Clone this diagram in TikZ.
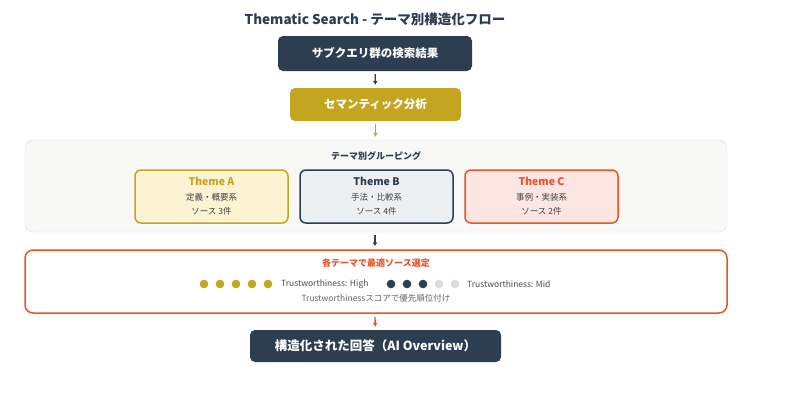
\documentclass[tikz,border=0pt]{standalone}
\usepackage{fontspec}
\setmainfont{Noto Sans CJK JP}
\usetikzlibrary{arrows.meta, positioning}
\definecolor{navy}{HTML}{2C3E50}
\definecolor{gold}{HTML}{C4A520}
\definecolor{rust}{HTML}{E8532A}
\definecolor{goldbg}{HTML}{FCF3D2}
\definecolor{navybg}{HTML}{ECF0F3}
\definecolor{rustbg}{HTML}{FDE6E1}
\definecolor{grpbg}{HTML}{F8F8F6}
\definecolor{grpline}{HTML}{DDDDDD}
\definecolor{dimdot}{HTML}{DDDDDD}

\begin{document}
\begin{tikzpicture}[x=1pt,y=-1pt,
	stage/.style={inner sep=0pt, rounded corners=5pt, text=white, font=\bfseries\fontsize{11.5}{13}\selectfont},
	theme/.style={inner sep=0pt, rounded corners=6pt, line width=1.5pt, minimum width=153pt, minimum height=53pt, align=center, text=black!75, font=\fontsize{8.5}{14.5}\selectfont},
	flow/.style={-{Latex[length=4pt,width=5pt]}, line width=1.3pt, shorten <=3pt, shorten >=3pt}]
	\useasboundingbox (0,0) rectangle (800,400);

	\node[text=navy, font=\bfseries\fontsize{13.5}{15}\selectfont] (title) at (375,19) {Thematic Search - テーマ別構造化フロー};

	\draw (375,53.5) node[stage, fill=navy, minimum width=194pt, minimum height=35pt] (res) {サブクエリ群の検索結果}
		(375.5,104.5) node[stage, fill=gold, minimum width=171pt, minimum height=33pt] (sem) {セマンティック分析}
		(376,186) node[inner sep=0pt, rounded corners=8pt, draw=grpline, fill=grpbg, minimum width=702pt, minimum height=92pt] (grp) {}
		(376,281.5) node[inner sep=0pt, rounded corners=8pt, draw=rust, line width=1.5pt, fill=white, minimum width=702pt, minimum height=63pt] (sel) {}
		(375.5,346) node[stage, fill=navy, minimum width=251pt, minimum height=32pt, font=\bfseries\fontsize{12.5}{14}\selectfont] (ans) {構造化された回答（AI Overview）};

	\node[text=navy, font=\bfseries\fontsize{9}{11}\selectfont] (grplab) at (376,156) {テーマ別グルーピング};
	\node[theme, draw=gold, fill=goldbg] (thA) at (211.5,196.5) {{\color{gold}\bfseries\fontsize{10.5}{14.5}\selectfont Theme A}\\定義・概要系\\ソース 3件};
	\node[theme, draw=navy, fill=navybg] (thB) at (376.5,196.5) {{\color{navy}\bfseries\fontsize{10.5}{14.5}\selectfont Theme B}\\手法・比較系\\ソース 4件};
	\node[theme, draw=rust, fill=rustbg] (thC) at (541.5,196.5) {{\color{rust}\bfseries\fontsize{10.5}{14.5}\selectfont Theme C}\\事例・実装系\\ソース 2件};

	\node[text=rust, font=\bfseries\fontsize{9}{11}\selectfont] (sellab) at (376,263) {各テーマで最適ソース選定};
	% trust dots
	\foreach \x in {204,220,236,252,268}
		\fill[gold] (\x,284) circle (4.3pt);
	\foreach \x/\c in {391/navy,407/navy,423/navy,439/dimdot,455/dimdot}
		\fill[\c] (\x,284) circle (4.3pt);
	\node[anchor=west, inner sep=0pt, text=black!70, font=\fontsize{8.5}{10}\selectfont] (hi) at (281,284) {Trustworthiness: High};
	\node[anchor=west, inner sep=0pt, text=black!70, font=\fontsize{8.5}{10}\selectfont] (mid) at (467,284) {Trustworthiness: Mid};
	\node[text=black!60, font=\fontsize{8.5}{10}\selectfont] (rank) at (376,298) {Trustworthinessスコアで優先順位付け};

	\draw[flow, navy] (res) -- (sem);
	\draw[flow, gold] (sem.south) -- (sem.south |- grp.north);
	\draw[flow, navy] (grp.south -| res) -- (sel.north -| res);
	\draw[flow, rust] (sel.south -| res) -- (ans);
\end{tikzpicture}
\end{document}
